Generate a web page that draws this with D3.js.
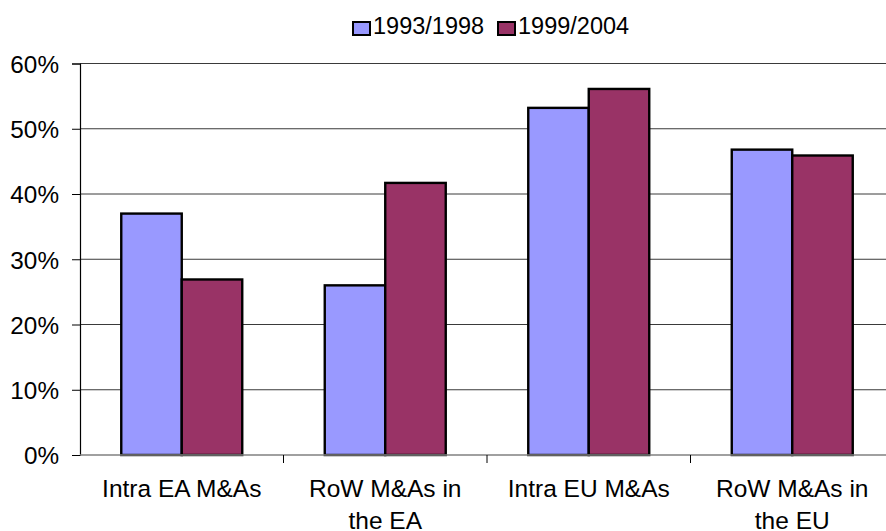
<!DOCTYPE html>
<html><head><meta charset="utf-8">
<script src="https://cdn.jsdelivr.net/npm/d3@7"></script>
<style>html,body{margin:0;padding:0;background:#fff;overflow:hidden}</style>
</head><body><svg id="c" width="886" height="531"></svg>
<script>
const categories = ["Intra EA M&As", "RoW M&As in\nthe EA", "Intra EU M&As", "RoW M&As in\nthe EU"];
const series = ["1993/1998", "1999/2004"];
const values1993 = [0.37, 0.26, 0.532, 0.468];
const values1999 = [0.269, 0.417, 0.561, 0.459];
const yTicks = [0, 0.1, 0.2, 0.3, 0.4, 0.5, 0.6];
const colors = ["#9999FF", "#993366"];

(function () {
const svg = d3.select("#c");
const font = "'Liberation Sans', Arial, sans-serif";
const pLeft = 80, pRight = 894, pTop = 63.5, pBottom = 455;

const y = d3.scaleLinear().domain([0, 0.6]).range([pBottom, pTop]);
const x0 = d3.scaleBand().domain(categories).range([pLeft, pRight]).padding(0);
const x1 = d3.scaleBand().domain(series).range([0, x0.bandwidth()]).paddingInner(0).paddingOuter(0.682);

// gridlines
svg.append("g").selectAll("line").data(yTicks.filter(d => d > 0)).join("line")
  .attr("x1", pLeft).attr("x2", pRight)
  .attr("y1", d => y(d)).attr("y2", d => y(d))
  .attr("stroke", "#3a3a3a").attr("stroke-width", 1);

// y axis
const yAxis = svg.append("g").attr("transform", `translate(${pLeft},0)`)
  .call(d3.axisLeft(y).tickValues(yTicks).tickFormat(d3.format(".0%")).tickSize(8).tickPadding(13));
yAxis.select(".domain").attr("stroke", "#000").attr("stroke-width", 1.2);
yAxis.selectAll(".tick line").attr("stroke", "#000");
yAxis.selectAll("text").attr("font-family", font).attr("font-size", 24.3).attr("fill", "#000").attr("dy", "0.36em");

// bars
const data = categories.map((c, i) => ({c, v: [values1993[i], values1999[i]]}));
const g = svg.append("g");
data.forEach(d => {
  series.forEach((s, j) => {
    g.append("rect")
      .attr("x", x0(d.c) + x1(s)).attr("width", x1.bandwidth())
      .attr("y", y(d.v[j])).attr("height", y(0) - y(d.v[j]))
      .attr("fill", colors[j]).attr("stroke", "#000").attr("stroke-width", 2.4);
  });
});

// x axis
const xg = svg.append("g");
xg.append("line").attr("x1", pLeft).attr("x2", pRight).attr("y1", pBottom).attr("y2", pBottom)
  .attr("stroke", "#808080").attr("stroke-width", 1.5);
const bounds = categories.slice(1).map(c => x0(c));
xg.selectAll("line.t").data(bounds).join("line").attr("class", "t")
  .attr("x1", d => d).attr("x2", d => d).attr("y1", pBottom).attr("y2", pBottom + 8)
  .attr("stroke", "#000").attr("stroke-width", 1);
categories.forEach(c => {
  const cx = x0(c) + x0.bandwidth() / 2;
  const t = xg.append("text").attr("x", cx).attr("y", 497)
    .attr("text-anchor", "middle").attr("font-family", font).attr("font-size", 24.5).attr("fill", "#000");
  c.split("\n").forEach((line, k) => {
    t.append("tspan").attr("x", cx).attr("dy", k === 0 ? 0 : 32).text(line);
  });
});

// legend
const leg = svg.append("g");
const legX = [352, 497];
series.forEach((s, j) => {
  leg.append("rect").attr("x", legX[j] + 1).attr("y", 22).attr("width", 17).attr("height", 13)
    .attr("fill", colors[j]).attr("stroke", "#000").attr("stroke-width", 2);
  leg.append("text").attr("x", legX[j] + 21).attr("y", 33.5).attr("font-family", font)
    .attr("font-size", 23.5).attr("fill", "#000").text(s);
});
})();
</script></body></html>
